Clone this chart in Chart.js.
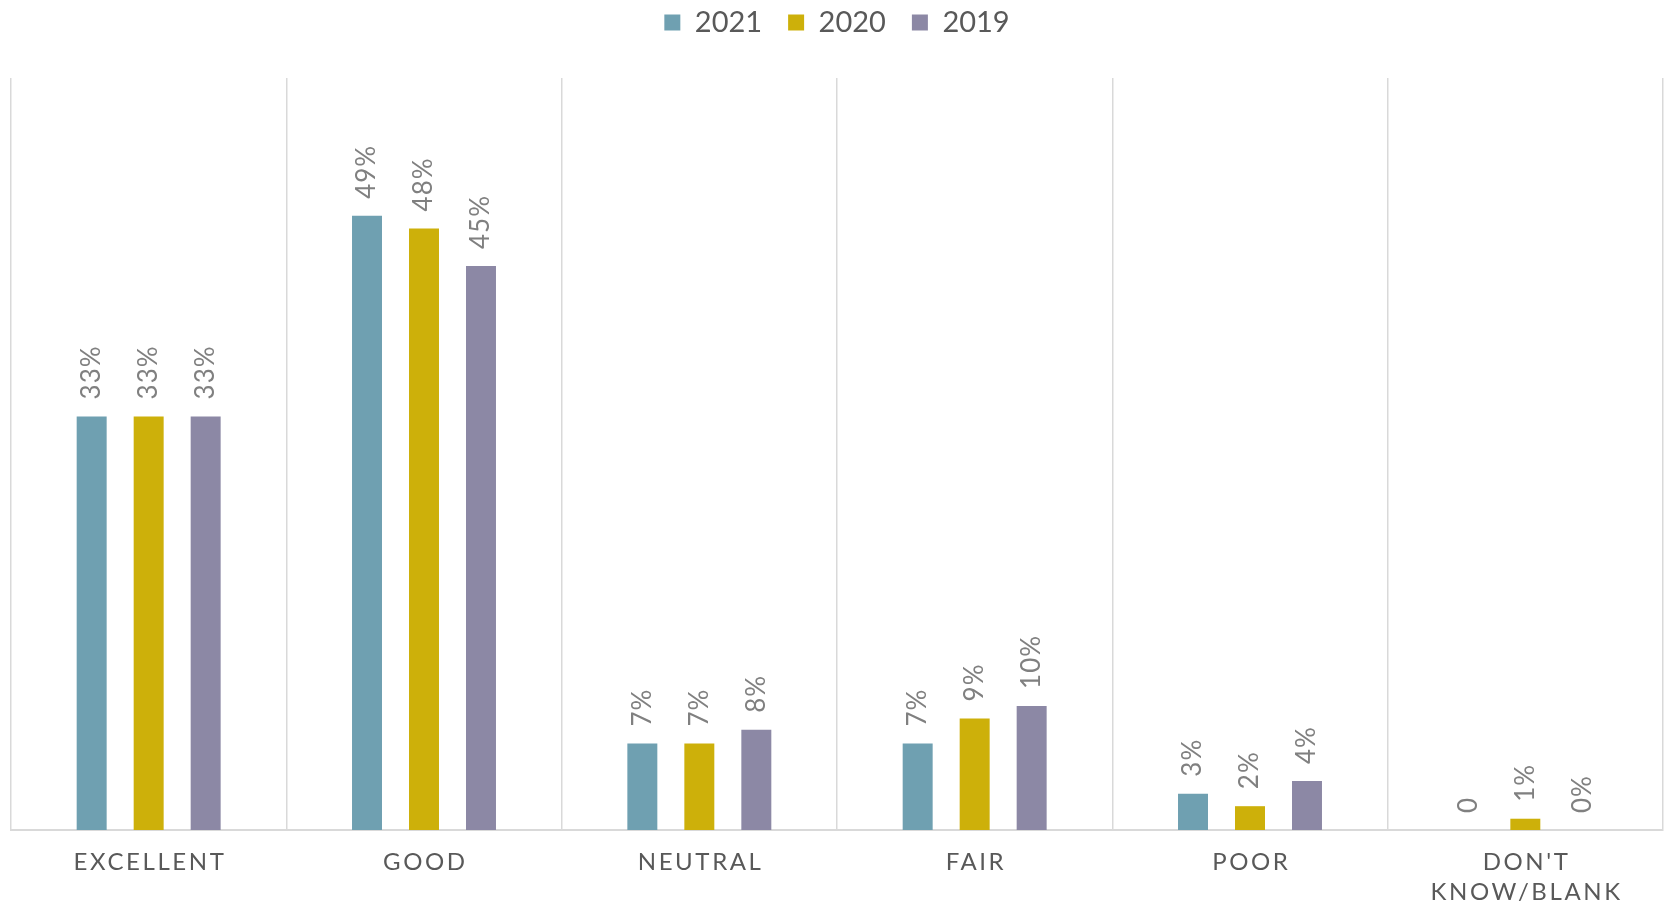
<!DOCTYPE html>
<html><head><meta charset="utf-8">
<script src="https://cdn.jsdelivr.net/npm/chart.js@4/dist/chart.umd.min.js"></script>
<style>html,body{margin:0;padding:0;background:#fff;overflow:hidden}</style>
</head><body>
<canvas id="c" width="1665" height="907" style="display:block;width:1665px;height:907px"></canvas>
<script>
const categories = ['EXCELLENT', 'GOOD', 'NEUTRAL', 'FAIR', 'POOR', ["DON'T", 'KNOW/BLANK']];
const seriesNames = ['2021', '2020', '2019'];
const values2021 = [33, 49, 6.9, 6.9, 2.9, 0];
const values2020 = [33, 48, 6.9, 8.9, 1.9, 0.9];
const values2019 = [33, 45, 8, 9.9, 3.9, 0];
const labels2021 = ['33%', '49%', '7%', '7%', '3%', '0'];
const labels2020 = ['33%', '48%', '7%', '9%', '2%', '1%'];
const labels2019 = ['33%', '45%', '8%', '10%', '4%', '0%'];
const yMax = 60;
const colors = ['#6FA0B1', '#CDB00A', '#8C88A5'];

const FONT = 'Lato, "Open Sans", sans-serif';

const valueLabels = {
  id: 'valueLabels',
  afterDatasetsDraw(chart) {
    const ctx = chart.ctx;
    chart.data.datasets.forEach((ds, i) => {
      const meta = chart.getDatasetMeta(i);
      meta.data.forEach((bar, j) => {
        const txt = ds.valueLabels[j];
        if (txt == null) return;
        ctx.save();
        ctx.translate(bar.x, bar.y - 17);
        ctx.rotate(-Math.PI / 2);
        ctx.font = '26px ' + FONT;
        ctx.fillStyle = '#808080';
        ctx.textAlign = 'left';
        ctx.textBaseline = 'middle';
        ctx.letterSpacing = '1px';
        ctx.fillText(txt, 0, 0);
        ctx.restore();
      });
    });
  }
};

const spacing = {
  id: 'spacing',
  beforeLayout(chart) {
    const lg = chart.legend;
    if (lg && !lg._patched) {
      const f = lg.fit;
      lg.fit = function () { f.call(this); this.height = 96; };
      lg._patched = true;
    }
  },
  beforeDraw(chart) {
    const sc = chart.scales.x;
    if (sc && !sc._patched) {
      const orig = sc.drawLabels;
      sc.drawLabels = function (area) {
        const ctx = this.ctx;
        ctx.save();
        ctx.letterSpacing = '2.6px';
        ctx.translate(1.3, 0);
        orig.call(this, area);
        ctx.restore();
      };
      sc._patched = true;
    }
  }
};

new Chart(document.getElementById('c'), {
  type: 'bar',
  data: {
    labels: categories,
    datasets: [
      { label: seriesNames[0], data: values2021, backgroundColor: colors[0], valueLabels: labels2021 },
      { label: seriesNames[1], data: values2020, backgroundColor: colors[1], valueLabels: labels2020 },
      { label: seriesNames[2], data: values2019, backgroundColor: colors[2], valueLabels: labels2019 }
    ]
  },
  options: {
    responsive: false,
    animation: false,
    devicePixelRatio: 1,
    datasets: { bar: { categoryPercentage: 0.621, barPercentage: 0.526, borderWidth: 0 } },
    layout: { padding: { top: -18, left: 11, right: 2, bottom: 0 } },
    plugins: {
      legend: {
        position: 'top',
        labels: {
          boxWidth: 16, boxHeight: 16, padding: 26,
          color: '#595959',
          font: { family: FONT, size: 29 }
        }
      },
      tooltip: { enabled: false }
    },
    scales: {
      x: {
        grid: { color: '#d9d9d9', lineWidth: 1.5, drawTicks: false, offset: true },
        border: { color: '#d9d9d9', width: 2 },
        ticks: {
          color: '#595959', padding: 17, maxRotation: 0, autoSkip: false,
          font: { family: FONT, size: 24, lineHeight: 1.25 }
        },
        afterFit(scale) { scale.height = 77; }
      },
      y: { display: false, min: 0, max: yMax }
    }
  },
  plugins: [valueLabels, spacing]
});
</script>
</body></html>
